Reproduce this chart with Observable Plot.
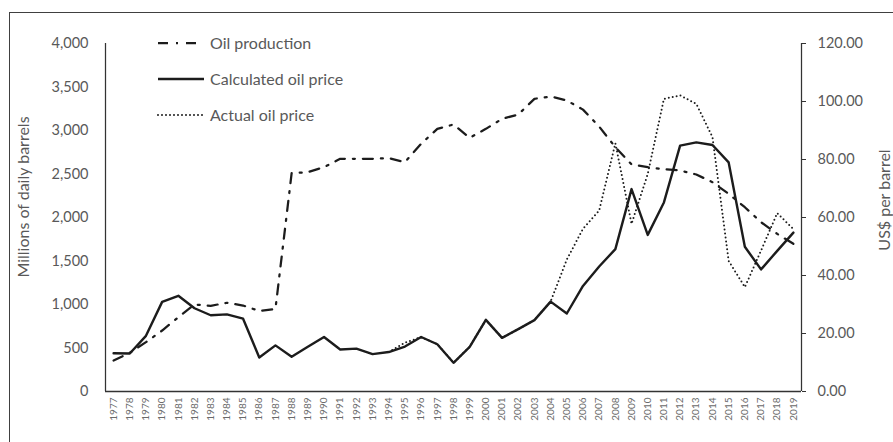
<!DOCTYPE html>
<html>
<head>
<meta charset="utf-8">
<script src="https://cdn.jsdelivr.net/npm/d3@7"></script>
<script src="https://cdn.jsdelivr.net/npm/@observablehq/plot@0.6"></script>
<style>
  html, body { margin: 0; padding: 0; background: #fff; }
  #wrap { position: relative; width: 893px; height: 442px; overflow: hidden; font-family: Lato, "Open Sans", sans-serif; }
  #frame { position: absolute; left: 9px; top: 12px; width: 900px; height: 440px; border: 1.5px solid #404040; box-sizing: border-box; }
  #chart { position: absolute; left: 0; top: 0; }
  .ttl { position: absolute; color: #595959; font-size: 16px; white-space: nowrap; transform: translate(-50%, -50%) rotate(-90deg); }
  #legend { position: absolute; left: 157px; top: 33px; }
  .lg { position: absolute; left: 0; height: 20px; white-space: nowrap; color: #595959; font-size: 16px; }
  .lg svg { position: absolute; left: 0; top: 0; }
  .lg span { position: absolute; left: 53px; top: 0; line-height: 20px; }
</style>
</head>
<body>
<div id="wrap">
  <div id="frame"></div>
  <div id="chart"></div>
  <div class="ttl" style="left:22px; top:197px;">Millions of daily barrels</div>
  <div class="ttl" style="left:883px; top:200px;">US$ per barrel</div>
  <div id="legend"></div>
</div>
<script>
const years = [1977,1978,1979,1980,1981,1982,1983,1984,1985,1986,1987,1988,1989,1990,1991,1992,1993,1994,1995,1996,1997,1998,1999,2000,2001,2002,2003,2004,2005,2006,2007,2008,2009,2010,2011,2012,2013,2014,2015,2016,2017,2018,2019];

// Oil production (millions of daily barrels, left axis)
const oilProduction = [356,445,567,701,854,1000,985,1020,988,925,950,2509,2521,2578,2675,2675,2675,2682,2636,2847,3019,3069,2916,3019,3134,3184,3364,3391,3345,3240,3045,2808,2610,2578,2555,2540,2494,2406,2272,2118,1946,1812,1697];

// Calculated oil price (US$ per barrel, right axis)
const calculatedPrice = [13.2,13.1,19.2,30.9,33.0,28.7,26.3,26.6,25.1,11.7,15.9,12.0,15.4,18.8,14.5,14.8,12.9,13.6,15.5,18.8,16.3,9.9,15.4,24.7,18.5,21.5,24.6,31.0,26.9,36.4,43.1,49.1,69.8,54.0,65.2,84.8,85.9,85.0,79.0,49.9,42.1,48.5,54.8];

// Actual oil price (US$ per barrel, right axis), visible from 1994
const actualYears = [1994,1995,1996,1997,1998,1999,2000,2001,2002,2003,2004,2005,2006,2007,2008,2009,2010,2011,2012,2013,2014,2015,2016,2017,2018,2019];
const actualPrice = [13.6,16.8,18.8,16.3,9.9,15.4,24.7,18.5,21.5,24.6,31.0,45.5,56.1,62.4,85.6,57.8,75.0,100.9,102.1,99.2,87.7,45.0,36.0,48.6,61.5,56.0];

const leftTicks = [0,500,1000,1500,2000,2500,3000,3500,4000];
const rightTicks = [0,20,40,60,80,100,120];

const leftMax = 4000, rightMax = 120;
const k = leftMax / rightMax; // maps right-axis values onto the left scale

const prodData = years.map((y, i) => ({year: y, value: oilProduction[i]}));
const calcData = years.map((y, i) => ({year: y, value: calculatedPrice[i]}));
const actData = actualYears.map((y, i) => ({year: y, value: actualPrice[i]}));

const ink = "#1c1c1c";
const grey = "#595959";

const chart = Plot.plot({
  width: 893,
  height: 442,
  marginLeft: 105,
  marginRight: 92,
  marginTop: 43,
  marginBottom: 51,
  style: {fontFamily: "Lato, 'Open Sans', sans-serif", background: "transparent", color: grey},
  x: {type: "linear", domain: [years[0] - 0.5, years[years.length - 1] + 0.5]},
  y: {type: "linear", domain: [0, leftMax]},
  marks: [
    Plot.axisX({ticks: years, tickFormat: d => String(d), tickRotate: -90, tickSize: 0, tickPadding: 6, fontSize: 10, label: null, color: "#6a6a6a"}),
    Plot.axisY({ticks: leftTicks, tickFormat: d3.format(","), tickSize: 0, tickPadding: 17, fontSize: 14.5, label: null, color: grey}),
    Plot.axisY({anchor: "right", ticks: rightTicks.map(v => v * k), tickFormat: d => (d / k).toFixed(2), tickSize: 4, tickPadding: 12, fontSize: 14.5, label: null, stroke: "#333", fill: grey}),
    Plot.ruleX([years[0] - 0.5, years[years.length - 1] + 0.5], {stroke: "#333", strokeWidth: 1.25}),
    Plot.ruleY([0], {stroke: "#333", strokeWidth: 1.5}),
    Plot.line(prodData, {x: "year", y: "value", stroke: ink, strokeWidth: 2.25, strokeDasharray: "10,8,2,8"}),
    Plot.line(actData, {x: "year", y: d => d.value * k, stroke: ink, strokeWidth: 2, strokeDasharray: "0,4", strokeLinecap: "round"}),
    Plot.line(calcData, {x: "year", y: d => d.value * k, stroke: ink, strokeWidth: 2.4})
  ]
});
document.getElementById("chart").appendChild(chart);

// Legend
const legendItems = [
  {label: "Oil production", dash: "10,8,2,8", width: 2.25, cap: "butt"},
  {label: "Calculated oil price", dash: null, width: 2.5, cap: "butt"},
  {label: "Actual oil price", dash: "0,4", width: 2, cap: "round"}
];
const legend = d3.select("#legend");
legendItems.forEach((it, i) => {
  const row = legend.append("div").attr("class", "lg").style("top", (i * 36) + "px");
  const svg = row.append("svg").attr("width", 50).attr("height", 20);
  svg.append("line").attr("x1", 1).attr("x2", 47).attr("y1", 10).attr("y2", 10)
    .attr("stroke", ink).attr("stroke-width", it.width)
    .attr("stroke-dasharray", it.dash).attr("stroke-linecap", it.cap);
  row.append("span").text(it.label);
});
</script>
</body>
</html>
